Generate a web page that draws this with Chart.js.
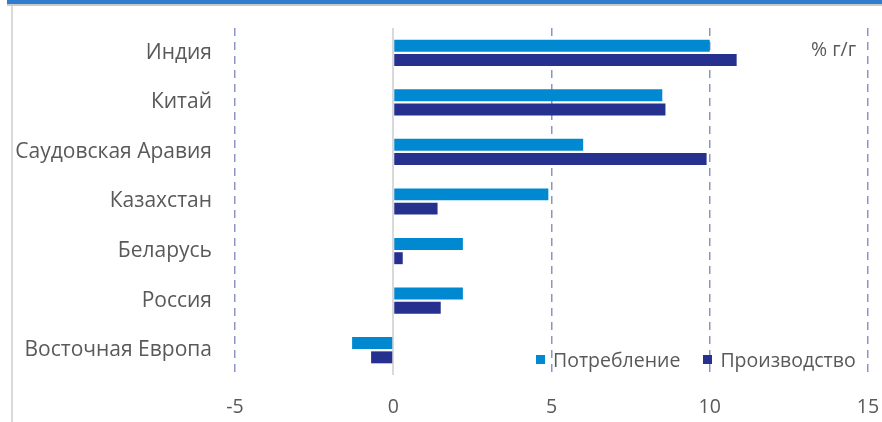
<!DOCTYPE html>
<html>
<head>
<meta charset="utf-8">
<script src="https://cdn.jsdelivr.net/npm/chart.js@4/dist/chart.umd.min.js"></script>
<style>
  html, body { margin: 0; padding: 0; background: #fff; }
  #wrap { position: relative; width: 882px; height: 422px; overflow: hidden; font-family: "Open Sans", sans-serif; }
  #topBar { position: absolute; left: 7px; top: 0; right: 0; height: 4px; background: #2f7dd1; border-bottom: 2px solid #c9c9c9; }
  #leftEdge { position: absolute; left: 11px; top: 6px; width: 2px; bottom: 0; background: #d9d9d9; }
  #unit { position: absolute; left: 811px; top: 35px; font-size: 19.5px; color: #595959; }
  #legend { position: absolute; left: 536px; top: 346px; font-size: 19.5px; color: #595959; display: flex; }
  #legend span.item { display: flex; align-items: center; margin-right: 23px; }
  #legend span.box { width: 9px; height: 9px; margin-right: 8px; display: inline-block; }
  canvas { position: absolute; left: 0; top: 0; }
</style>
</head>
<body>
<div id="wrap">
  <div id="topBar"></div>
  <div id="leftEdge"></div>
  <canvas id="prodChart" width="882" height="422"></canvas>
  <div id="unit">% г/г</div>
  <div id="legend"></div>
</div>
<script>
// regions, top to bottom
const regions = ['Индия', 'Китай', 'Саудовская Аравия', 'Казахстан', 'Беларусь', 'Россия', 'Восточная Европа'];
const seriesNames = ['Потребление', 'Производство'];
const consumption = [10.0, 8.5, 6.0, 4.9, 2.2, 2.2, -1.3];
const production = [10.85, 8.6, 9.9, 1.4, 0.3, 1.5, -0.7];
const seriesColors = ['#0088d1', '#25308f'];
const xTicks = [-5, 0, 5, 10, 15];

const textColor = '#595959';

// legend in html, inside the plot area
const legendEl = document.getElementById('legend');
seriesNames.forEach((name, i) => {
  const item = document.createElement('span');
  item.className = 'item';
  item.innerHTML = `<span class="box" style="background:${seriesColors[i]}"></span>${name}`;
  legendEl.appendChild(item);
});

const ctx = document.getElementById('prodChart').getContext('2d');
new Chart(ctx, {
  type: 'bar',
  data: {
    labels: regions,
    datasets: [
      { label: seriesNames[0], data: consumption, backgroundColor: seriesColors[0] },
      { label: seriesNames[1], data: production, backgroundColor: seriesColors[1] }
    ]
  },
  options: {
    indexAxis: 'y',
    responsive: false,
    animation: false,
    categoryPercentage: 0.575,
    barPercentage: 0.84,
    layout: { padding: { top: 28, right: 14, bottom: 0, left: 0 } },
    plugins: {
      legend: { display: false },
      tooltip: { enabled: false }
    },
    scales: {
      x: {
        min: -5,
        max: 15,
        afterBuildTicks: axis => { axis.ticks = xTicks.map(v => ({ value: v })); },
        afterFit: axis => {
          axis.height = 47;
          axis.paddingLeft = 0;
          axis.paddingRight = 0;
        },
        grid: {
          color: c => c.tick && c.tick.value === 0 ? '#d9d9d9' : '#8e93c6',
          lineWidth: c => c.tick && c.tick.value === 0 ? 2 : 1.5,
          drawTicks: false
        },
        border: {
          display: false,
          dash: c => c.tick && c.tick.value === 0 ? [] : [8, 6]
        },
        ticks: {
          color: textColor,
          font: { family: 'Open Sans', size: 19.5 },
          padding: 21
        }
      },
      y: {
        afterFit: axis => {
          axis.width = 235;
          axis.paddingTop = 0;
          axis.paddingBottom = 0;
        },
        grid: { display: false, drawTicks: false },
        border: { display: false },
        ticks: {
          color: textColor,
          font: { family: 'Open Sans', size: 21 },
          padding: 23
        }
      }
    }
  }
});
</script>
</body>
</html>
